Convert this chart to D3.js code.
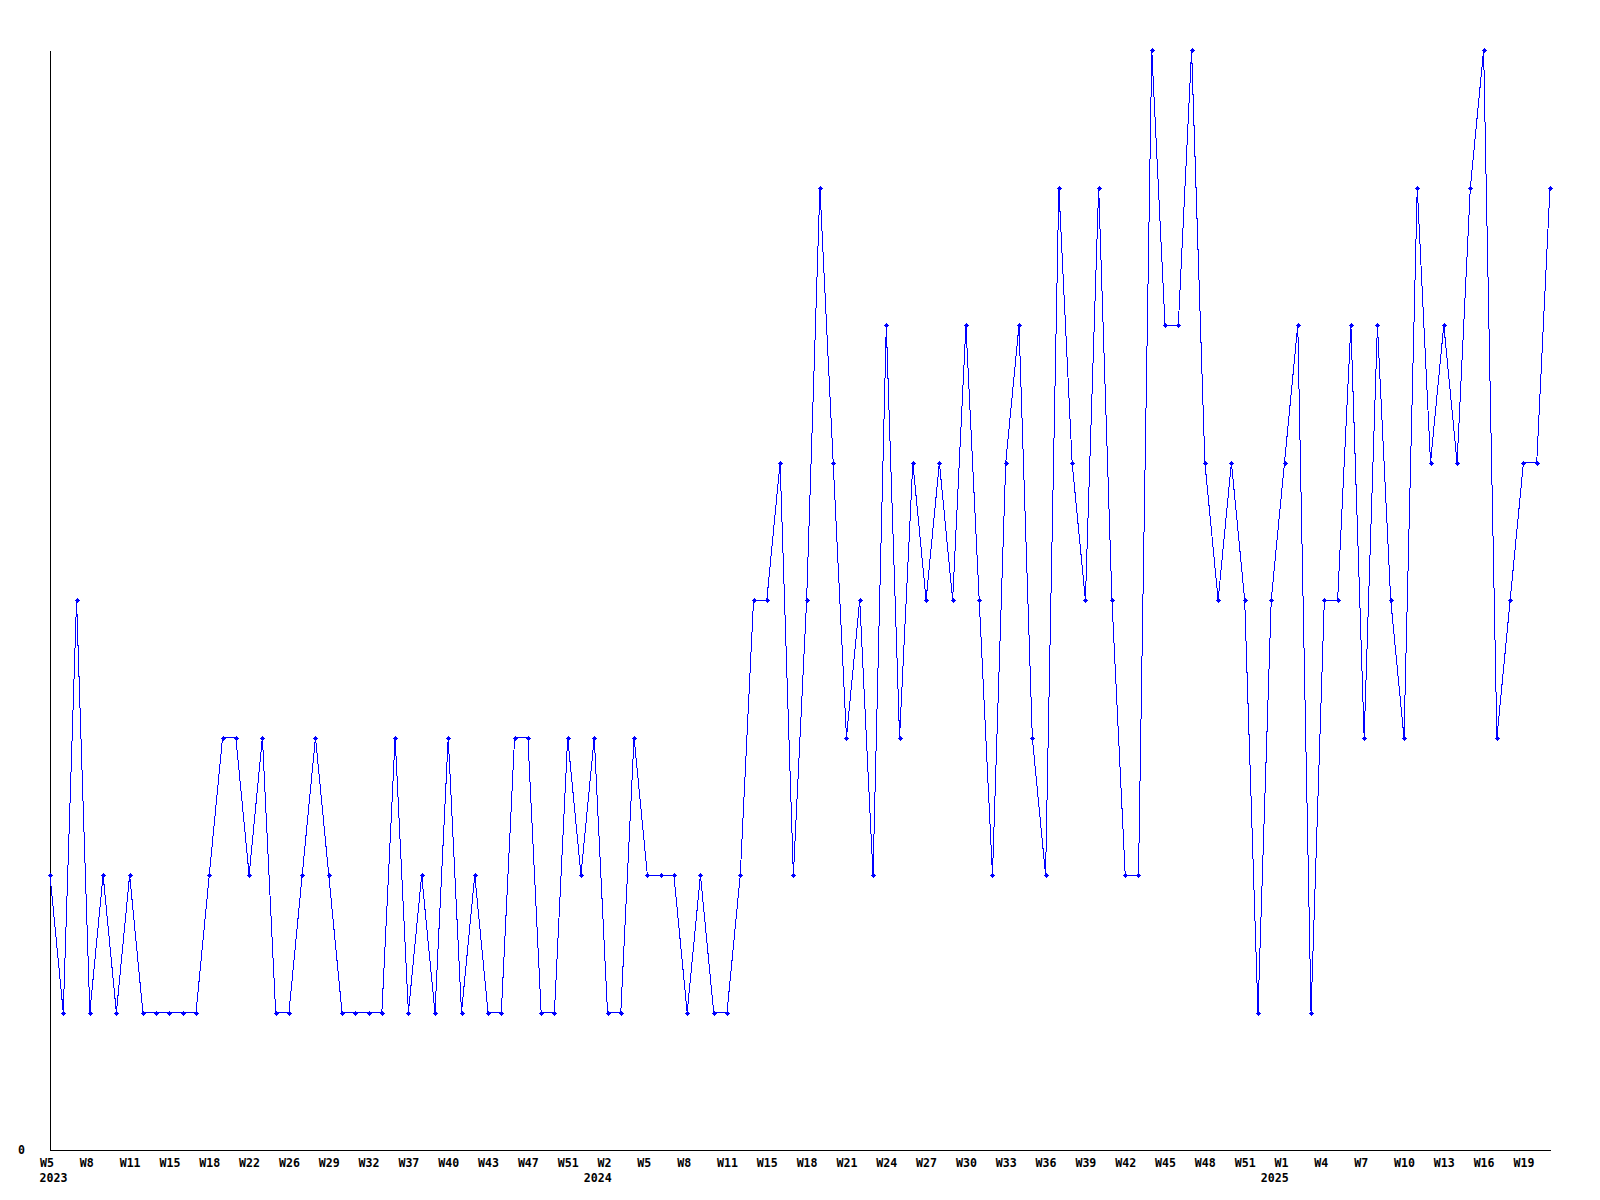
<!DOCTYPE html>
<html>
<head>
<meta charset="utf-8">
<script src="https://cdn.jsdelivr.net/npm/d3@7/dist/d3.min.js"></script>
<style>
  html, body { margin: 0; padding: 0; background: #ffffff; }
  svg { display: block; }
  text { font-family: "DejaVu Sans Mono", "Liberation Mono", monospace; font-weight: bold; font-size: 11.6px; fill: #000; }
</style>
</head>
<body>
<script>
// ---- data ----
const weeks2023 = ["W5","W6","W7","W8","W9","W10","W11","W12","W13","W15","W16","W17","W18","W19","W20",
  "W22","W23","W24","W26","W27","W28","W29","W30","W31","W32","W33","W35","W37","W38","W39","W40","W41",
  "W42","W43","W44","W45","W47","W48","W49","W51","W52"];
const weeks2024 = ["W1","W2","W3","W4","W5","W6","W7","W8","W9","W10","W11","W12","W13","W15","W16","W17",
  "W18","W19","W20","W21","W22","W23","W24","W25","W26","W27","W28","W29","W30","W31","W32","W33","W34",
  "W35","W36","W37","W38","W39","W40","W41","W42","W43","W44","W45","W46","W47","W48","W49","W50","W51","W52"];
const weeks2025 = ["W0","W1","W2","W3","W4","W5","W6","W7","W8","W9","W10","W11","W12","W13","W14","W15",
  "W16","W17","W18","W19","W20","W21"];
const years = ["2023","2024","2025"];
const values = [
  2,1,4,1,2,1,2,1,1,1,
  1,1,2,3,3,2,3,1,1,2,
  3,2,1,1,1,1,3,1,2,1,
  3,1,2,1,1,3,3,1,1,3,
  2,3,1,1,3,2,2,2,1,2,
  1,1,2,4,4,5,2,4,7,5,
  3,4,2,6,3,5,4,5,4,6,
  4,2,5,6,3,2,7,5,4,7,
  4,2,2,8,6,6,8,5,4,5,
  4,1,4,5,6,1,4,4,6,3,
  6,4,3,7,5,6,5,7,8,3,
  4,5,5,7
];
const yTicks = [0];
const labelEvery = 3;

// ---- build categories ----
const weekLists = [weeks2023, weeks2024, weeks2025];
const cats = [];
weekLists.forEach((ws, yi) => ws.forEach((w, k) => cats.push({ year: years[yi], week: w, first: k === 0 })));
const data = values.map((v, i) => ({ i, v, cat: cats[i] }));

// ---- chart ----
const W = 1600, H = 1200;
const svg = d3.select("body").append("svg").attr("width", W).attr("height", H);

const x = d3.scalePoint().domain(d3.range(cats.length)).range([50, 1550]);
const y = d3.scaleLinear().domain([0, 8]).range([1150, 50]);

// y axis
const yAxis = svg.append("g").attr("transform", "translate(50,0)")
  .call(d3.axisLeft(y).tickValues(yTicks).tickSize(0).tickSizeOuter(0).tickPadding(25));
yAxis.select(".domain").attr("stroke", "#000").attr("shape-rendering", "crispEdges");
yAxis.selectAll("text").attr("font-family", null).attr("font-size", null).attr("dy", "0.32em");

// x axis
const shown = d3.range(cats.length).filter(i => i % labelEvery === 0);
const xAxis = svg.append("g").attr("transform", "translate(0,1150)")
  .call(d3.axisBottom(x).tickValues(shown).tickSize(0).tickSizeOuter(0)
    .tickFormat(i => cats[i].week));
xAxis.select(".domain").attr("stroke", "#000").attr("shape-rendering", "crispEdges");
xAxis.selectAll("text")
  .attr("font-family", null).attr("font-size", null)
  .attr("text-anchor", "start").attr("x", -10.5).attr("y", 17).attr("dy", null);

// year labels at the first point of each year
svg.append("g").selectAll("text")
  .data(data.filter(d => d.cat.first))
  .join("text")
  .attr("x", d => x(d.i) - 10.5)
  .attr("y", 1182)
  .text(d => d.cat.year);

// line
svg.append("path")
  .datum(data)
  .attr("fill", "none")
  .attr("stroke", "#0000ff")
  .attr("stroke-width", 1)
  .attr("shape-rendering", "crispEdges")
  .attr("d", d3.line().x(d => x(d.i)).y(d => y(d.v)));

// markers
svg.append("g").selectAll("path")
  .data(data)
  .join("path")
  .attr("transform", d => `translate(${Math.round(x(d.i))},${Math.round(y(d.v))})`)
  .attr("fill", "#0000ff")
  .attr("shape-rendering", "crispEdges")
  .attr("d", "M-2.5,-0.5H2.5V0.5H-2.5Z M-0.5,-2.5H0.5V2.5H-0.5Z M-1.5,-1.5H1.5V1.5H-1.5Z");
</script>
</body>
</html>
